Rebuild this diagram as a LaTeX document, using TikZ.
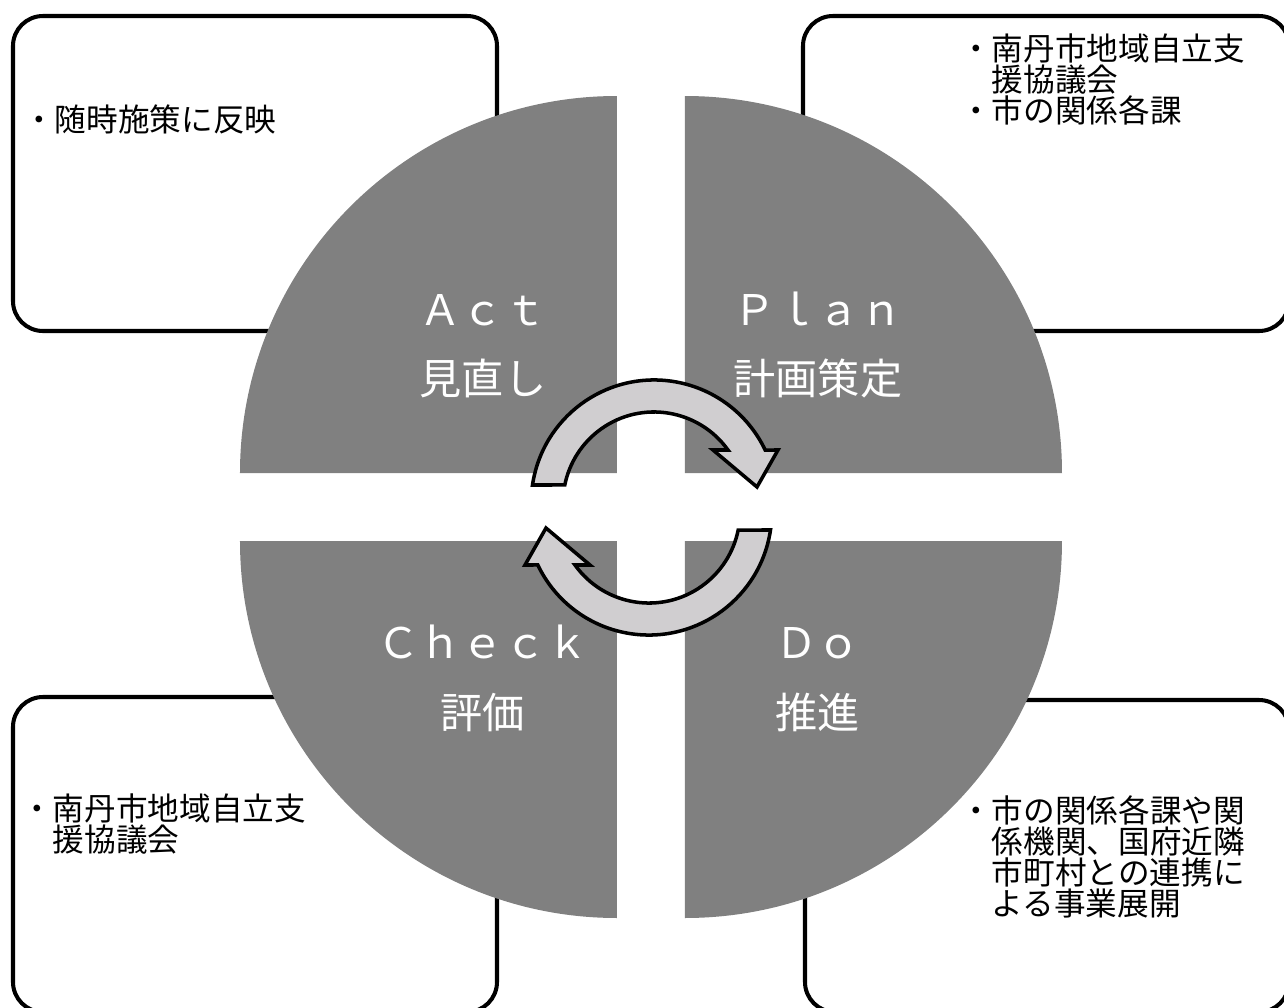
\documentclass[tikz,border=0pt]{standalone}
\usepackage{fontspec}
\setmainfont{Noto Sans CJK JP}
\usetikzlibrary{positioning}
\definecolor{quadgray}{RGB}{128,128,128}
\definecolor{arrowgray}{RGB}{208,206,208}

\begin{document}
\begin{tikzpicture}[
    notebox/.style={draw, line width=2.3pt, rounded corners=0.6cm, inner sep=0pt},
    notetext/.style={anchor=north west, inner sep=0pt, align=left, font=\fontsize{18}{16.5}\selectfont},
    quad/.style={fill=quadgray},
    phase/.style={anchor=base, inner sep=0pt, text=white, font=\fontsize{24}{28}\selectfont},
    cyclearrow/.style={draw=black, line width=2pt, fill=arrowgray}
]
    \useasboundingbox (-13.02,-10.0) rectangle (12.66,10.14);

    % Note boxes (partly hidden by the circle)
    \node[notebox, minimum width=9.68cm, minimum height=6.30cm] (actbox) at (-7.92,6.67) {};
    \node[notebox, minimum width=9.72cm, minimum height=6.30cm] (planbox) at (7.90,6.67) {};
    \node[notebox, minimum width=9.68cm, minimum height=6.30cm] (checkbox) at (-7.92,-6.95) {};
    \node[notebox, minimum width=9.68cm, minimum height=6.24cm] (dobox) at (7.92,-6.98) {};

    % Note texts
    \node[notetext] (acttext) at (-12.56,8.06) {・随時施策に反映};
    \node[notetext] (plantext) at (6.18,9.48) {・南丹市地域自立支\\\hspace*{1em}援協議会\\・市の関係各課};
    \node[notetext] (checktext) at (-12.60,-5.72) {・南丹市地域自立支\\\hspace*{1em}援協議会};
    \node[notetext] (dotext) at (6.18,-5.76) {・市の関係各課や関\\\hspace*{1em}係機関、国府近隣\\\hspace*{1em}市町村との連携に\\\hspace*{1em}よる事業展開};

    % Circle in four quadrants
    \fill[quad] (-0.68,0.68) -- ++(-7.54,0) arc[start angle=180, end angle=90, radius=7.54] -- cycle;
    \fill[quad] (0.68,0.68) -- ++(7.54,0) arc[start angle=0, end angle=90, radius=7.54] -- cycle;
    \fill[quad] (-0.68,-0.68) -- ++(-7.54,0) arc[start angle=180, end angle=270, radius=7.54] -- cycle;
    \fill[quad] (0.68,-0.68) -- ++(7.54,0) arc[start angle=0, end angle=-90, radius=7.54] -- cycle;

    % Phase labels
    \node[phase] (act) at (-3.36,3.64) {Ａｃｔ};
    \node[phase] (actjp) at (-3.36,2.26) {見直し};
    \node[phase] (plan) at (3.34,3.64) {Ｐｌａｎ};
    \node[phase] (planjp) at (3.34,2.26) {計画策定};
    \node[phase] (check) at (-3.36,-3.03) {Ｃｈｅｃｋ};
    \node[phase] (checkjp) at (-3.36,-4.42) {評価};
    \node[phase] (do) at (3.34,-3.03) {Ｄｏ};
    \node[phase] (dojp) at (3.34,-4.42) {推進};

    % Cycle arrows, the lower one is the upper one turned half round
    \foreach \turn in {0,180} {
        \begin{scope}[rotate around={\turn:(0.01,-0.01)}]
            \draw[cyclearrow] (-2.37,0.44) arc[start angle=171.6, end angle=25.5, radius=2.46]
                -- (2.54,1.14) -- (2.12,0.40) -- (1.24,1.14) -- (1.54,1.14)
                arc[start angle=35.6, end angle=168.6, radius=1.82] -- cycle;
        \end{scope}
    }
\end{tikzpicture}
\end{document}
